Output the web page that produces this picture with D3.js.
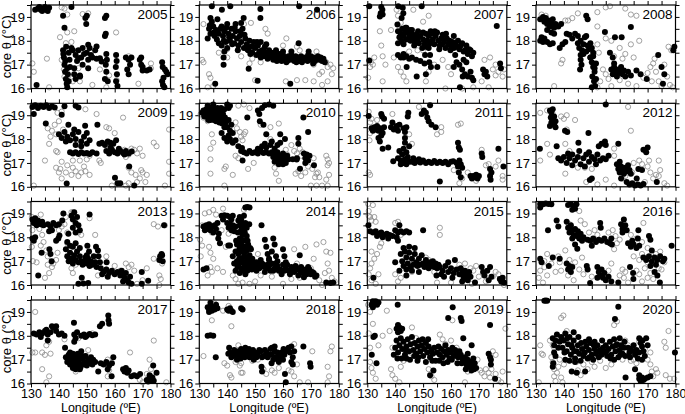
<!DOCTYPE html>
<html>
<head>
<meta charset="utf-8">
<script src="https://cdn.jsdelivr.net/npm/d3@7"></script>
<style>
  body { margin: 0; background: #fff; }
  svg { display: block; font-family: "Liberation Sans", Arial, sans-serif; }
  .tick text { font-size: 13px; fill: #000; }
  .xlab .tick text { font-size: 12.5px; }
  .tick line { stroke: #000; stroke-width: 1; }
</style>
</head>
<body>
<div id="chart"></div>
<script>
// years shown in the 4x4 grid
var years = [2005, 2006, 2007, 2008, 2009, 2010, 2011, 2012, 2013, 2014, 2015, 2016, 2017, 2018, 2019, 2020];
var xTickLabels = [130, 140, 150, 160, 170, 180];
var yTickLabels = [16, 17, 18, 19];

// [longitude (E), core theta (C)]
var filled2005 = [[131.5,19.3],[132.5,19.35],[133.5,19.3],[134.5,19.35],[135.5,19.3],[136.5,19.38],[133,19.42],[135,19.42],[134,19.25],[136,19.25],
  [132,16.15],[141.5,19.05],[144.5,19.42],[142,18.55],[149.5,18.95],[150,19.05],[149.8,18.7],[156.5,18.95],[157,19.05],[156.8,18.3],[156.5,18.2],
  [141.5,17.6],[141.8,17.3],[142,17.0],[142.2,16.7],[142.5,16.4],[142.8,16.2],[143,16.05],[143.5,16.3],[143.2,16.6],[144,16.9],[143.8,17.2],[143.5,17.5],[142.6,17.75],[144.5,17.7],[141.6,17.45],[142.3,17.15],[143,16.85],
  [145,17.6],[146,17.4],[147,17.6],[148,17.3],[148.5,17.7],[149,17.45],[150,17.5],[150.5,17.2],[151,17.7],[151.5,17.4],[152,17.3],[153,17.6],[153.5,17.25],[146.5,17.15],[145.5,16.85],[147.5,16.55],[146,16.4],[145.5,16.6],[148.5,17.0],[150.5,17.83],[153.5,17.76],[154.7,17.27],[155.3,17.13],[150.5,16.85],[147.6,16.5],[147,17.27],
  [157,17.45],[157.2,17.2],[156.8,17.0],[157,16.7],[156.5,16.4],[157.5,16.3],[160.5,17.4],[160.7,17.15],[160.4,16.9],[160.8,16.6],[160.5,16.3],[161,16.1],
  [164,17.3],[165,17.2],[165.5,17.0],[164.5,16.8],[165,16.6],[166,17.3],[169,17.2],[169.5,17.0],[170,16.9],[169.5,17.3],[170,16.75],[172.5,16.8],[171.5,16.75],
  [177,17.1],[177.2,16.9],[177.5,16.45],[177,16.3],[177.3,16.15],[177.8,16.05],[178.5,16.7],[179,16.6],[178,16.8]];
var open2005 = [[130.5,17.05],[131,16.7],[135.7,17.25],[136.5,16.05],[141,19.4],[142,19.35],[143,19.1],[148.5,19.12],[150.5,19.15],[160.5,18.35],[140.4,18.15],[143,18.35],[145.5,18.4],[142.5,17.9],[144.5,17.95],[141.8,16.8],[143.5,16.55],[147.5,16.3],[147,16.85],[154.7,16.8],[157,16.05],[160.7,16.35],[168.5,16.2],[173,17.05],[173,16.85],[165,17.35],[158,16.55],[152,16.15],[141,17.2],[142,16.5],[145,16.3]];

var filled2006 = [[135.7,16.2],[150.9,16.33],[147.7,16.83],[138.7,17.0],[138.1,19.3],[151.9,19.33],[165.8,19.45],[172.2,19.3],[162.6,16.2],[134.5,19.45],[141.1,19.45],[151.9,18.96],[145.9,18.96],[165.6,17.9],[169.2,17.55],[138.7,17.3],
  [133,18.1],[133.5,18.5],[134,18.3],[134.5,18.8],[135,18.6],[135.5,18.2],[136,18.45],[136.5,18.9],[137,18.3],[137,17.9],[134,18.95],
  [138,18.6],[138.5,18.2],[139,18.4],[139.5,17.95],[140,18.7],[140.5,18.3],[141,18.0],[141.5,18.5],[142,18.2],[138,17.8],[139,17.55],[140,17.7],
  [142.5,17.9],[143,18.4],[143.5,18.1],[144,17.8],[144.5,18.2],[145,17.95],[145.5,18.5],[146,17.7],[146.5,18.1],[147,17.85],[143,18.7],[145,18.75],
  [147.5,17.6],[148,18.0],[148.5,17.75],[149,17.5],[149.5,17.95],[150,17.7],[150.5,17.4],[151,17.8],[151.5,17.55],[152,17.3],[152,17.95],
  [152.5,17.6],[153,17.35],[153.5,17.75],[154,17.5],[154.5,17.25],[155,17.6],[155.5,17.35],[156,17.5],[156.5,17.2],[157,17.4],[154,17.85],
  [157.5,17.6],[158,17.25],[158.5,17.45],[159,17.3],[159.5,17.15],[160,17.4],[160.5,17.25],[161,17.3],[161.5,17.15],[162,17.35],
  [162.5,17.2],[163,17.4],[163.5,17.25],[164,17.15],[164.5,17.35],[165,17.2],[165.5,17.3],[166,17.15],[166.5,17.35],[167,17.2],[168,17.3],
  [168.5,17.25],[169,17.4],[169.5,17.2],[170,17.35],[170.5,17.2],[171,17.3],[171.5,17.15],[172,17.25],[173,17.2],[174,17.15],[175,17.1],[172.5,17.35],[160,17.55],[163,17.55],
  [133.8,18.65],[135.2,18.35],[136.3,18.05],[137.6,18.5],[138.8,18.0],[139.7,18.55],[140.7,18.15],[141.8,17.85],[142.7,18.55],[143.8,17.6],[144.7,18.4],[146.2,18.25],[147.2,17.65],[148.3,17.45],[149.3,17.75],[150.7,17.95],[151.8,17.45],[153.2,17.55],[154.8,17.4],[156.2,17.3],[157.8,17.15],[159.2,17.45],[161.2,17.1],[162.8,17.3],[164.8,17.1],[166.8,17.1],[168.8,17.15],[170.8,17.05],[173.5,17.3],[174.5,17.25]];
var open2006 = [[131.5,18.7],[131,17.2],[131.5,17.1],[133.5,16.6],[134,16.45],[133,16.05],[137,17.5],[140,17.65],[143.5,18.3],[146,18.7],[148.5,18.75],[153.7,18.5],[154.5,18.3],[161.2,18.1],[160,17.8],[165,17.75],[166,17.6],[172,17.55],[170,17.3],[171,17.0],[173,16.6],[174,16.7],[176,16.9],[175.5,17.1],[177,17.0],[178,16.85],[177.5,16.6],[176,16.3],[174,16.15],[171,16.3],[168,16.35],[165,16.35],[161,16.3],[150,16.35],[148,17.05],[149,17.25],[145,17.35],[140,17.3],[152,17.1],[135,16.1]];

var filled2007 = [[130.7,19.45],[135,19.42],[135.4,19.3],[134.8,19.15],[134.5,19.02],[135.5,19.1],[141.1,19.45],[142.7,19.38],[142.9,19.15],[149.5,19.45],[142.3,18.95],[130.7,17.17],[140.8,18.68],
  [141,17.4],[142,17.3],[143,17.45],[144,17.35],[146,17.3],[147.5,17.2],[149,17.15],[150.5,17.05],[150.7,17.4],[152,17.7],[152.5,17.4],[152.2,17.1],[152.8,16.9],[151,16.6],[155.1,16.9],
  [161,17.7],[161.5,17.4],[162,17.1],[161,16.9],[163,17.0],[164,16.8],[165,16.6],[166,16.5],[167,16.7],[167.5,16.45],[165.5,17.1],[164.5,17.2],
  [171.5,16.8],[172,16.6],[172.5,16.7],[173,16.5],[177.6,17.05],[177.9,16.85],[176.4,18.62],[168,16.35],[164.2,16.5],[163.2,16.05],[147.7,16.5],[144.1,16.9],
  [141,18.4],[141.5,18.15],[142,18.3],[142.5,18.5],[143,18.2],[143.5,18.35],[144,18.05],[144.5,18.4],[145,18.2],[145.5,18.0],[146,18.3],[146.5,18.15],[147,17.95],[147.5,18.25],[148,18.05],[148.5,17.9],[149,18.2],[150,18.05],[150.5,17.85],[151,18.3],[151.5,18.0],[152,18.2],[152.5,17.9],[153,18.3],[153.5,18.05],[154,17.85],[154.5,18.2],[155,18.35],[155.5,18.0],[156,17.8],[156.5,18.1],[157,18.25],[157.5,17.95],[158,17.7],[158.5,18.1],[159,17.85],[159.5,18.0],[160,17.75],[160.5,17.95],[161,18.2],[162,17.75],[162.5,18.0],[163,17.65],[164,17.9],[165,17.6],[165.5,17.8],[166,17.45],[167,17.6],[167.5,17.35],[168,17.5],[144,18.55],[146,18.45],[150,18.35],[141,17.9],[143,17.85],
  [142.2,18.0],[143.7,18.55],[145.3,18.45],[146.8,17.8],[148.2,18.4],[149.7,17.7],[151.2,17.75],[152.7,18.4],[154.2,18.4],[155.8,17.65],[156.8,17.85],[158.2,18.3],[159.8,17.6],[161.5,17.9],[163.5,17.8],[164.5,17.55],[166.5,17.65],[143,17.3],[145,17.25]];
var open2007 = [[130.3,16.45],[131,16.9],[131.3,17.1],[132,17.0],[132.5,17.3],[134.5,18.4],[135,17.8],[135.5,17.35],[135.5,16.3],[136.5,17.0],[138.5,18.45],[139.5,17.3],[141,16.9],[142,16.7],[143,16.5],[144,16.3],[140.5,19.3],[141,19.05],[142,18.75],[146.5,19.3],[152,19.05],[150,18.8],[148,17.6],[150,17.6],[152,16.7],[151,16.3],[154,17.0],[157,17.2],[159,16.9],[160,16.6],[158,16.0],[164,16.0],[168,16.05],[171,16.3],[172,17.2],[174,17.3],[175,16.8],[176,16.55],[177,16.7],[178.5,16.5],[179,16.8],[176,17.0],[173.5,16.05],[145,17.55]];

var filled2008 = [[131.5,18.9],[132.5,19.0],[133,18.8],[133.5,18.95],[134,18.7],[134.5,18.85],[135,18.6],[135.5,18.75],[136,18.9],[136.5,18.55],[137,18.7],[134,18.45],[135.5,18.35],[136.5,18.3],[138,18.6],[139,18.7],
  [131.5,18.0],[132,18.15],[132.5,17.95],[133,18.1],[134,17.95],[135,17.85],[136,17.9],[141,18.3],[142,18.25],[143,18.1],[144,18.3],[139.5,17.85],[140.5,17.95],[138.5,17.7],
  [145,17.9],[145.5,17.7],[146,18.0],[146.5,17.6],[147,17.85],[147.5,18.15],[148,17.55],[148.5,17.8],[149,17.65],[149.5,17.9],[150,17.7],[150.5,17.5],[147,17.45],[148,18.2],[146,17.4],[145,18.2],[149.5,17.3],
  [146,17.2],[146.3,17.0],[145.8,16.8],[149.5,17.3],[150,17.1],[150.5,16.9],[151,16.7],[150.2,16.5],[150.8,16.3],[151.2,16.1],[150,16.05],[151.5,16.4],[151,16.85],[150.5,17.35],[151.5,17.05],
  [148,19.05],[148.5,18.9],[154.7,18.37],[158.3,18.15],[160.7,18.15],[164,18.58],
  [157,16.8],[157.5,16.6],[158,16.9],[158.5,16.7],[159,16.5],[159.5,16.8],[160,16.65],[160.5,16.9],[161,16.6],[161.5,16.75],[162,16.5],[163,16.7],[164,16.55],[158,17.05],[156.5,17.5],[157.5,17.3],
  [166,16.75],[167.5,16.6],[169.7,16.4],[173.8,17.4],[175,16.9],[175.5,16.2],[176,16.6],[179.2,17.6],[179.6,17.75]];
var open2008 = [[132,19.1],[133.5,19.05],[140.5,18.85],[141.5,18.85],[143,18.95],[145,19.15],[152,19.2],[155,19.4],[156.5,19.45],[162,19.35],[164,19.1],[166,19.05],[152,18.6],[155,18.1],[157,18.0],[160,17.7],[162,17.45],[165,17.3],[164,17.85],[167,18.0],[139.5,17.2],[139,17.05],[136.5,16.1],[152,17.85],[152.5,17.5],[154,16.8],[155,16.6],[156,16.4],[153,16.3],[152,16.05],[157,16.1],[160,16.35],[163,16.2],[166,16.1],[168.5,16.45],[170,16.65],[171,16.9],[172,17.05],[173,16.7],[174,16.3],[175,16.1],[177,16.5],[178,16.15],[179,16.05],[171.5,16.3],[172.5,17.25],[176,17.0],[177.5,17.75],[178.5,17.6],[158,17.35],[161,17.25]];

var filled2009 = [[130.5,19.35],[131.5,19.42],[132.5,19.3],[133.5,19.4],[134.5,19.35],[135.5,19.42],[136.5,19.3],[137.5,19.38],[138.5,19.32],[142,19.38],[146,19.4],[147,19.32],
  [131,19.05],[141,19.02],[135.3,18.65],[143.4,18.6],
  [140,18.2],[141,18.05],[142,18.3],[143,18.1],[144,17.95],[145,18.2],[146,18.0],[147,18.3],[148,17.9],[149,18.1],[150,18.25],[151,17.95],[146,17.75],[148,17.7],[150,17.8],[142.5,17.9],[145.5,18.4],
  [149.4,18.56],[153.8,18.6],
  [144,17.45],[145,17.4],[146,17.45],[147,17.38],[148,17.45],[149,17.4],[150,17.42],[151,17.38],[152,17.45],[153.5,17.4],
  [154.5,17.8],[155.5,17.85],[156.5,17.75],[157.5,17.9],[158.5,17.85],[159.5,17.8],[160.5,17.95],
  [157,17.5],[158,17.4],[159,17.55],[160,17.45],[161,17.4],[162,17.5],[163,17.42],[164,17.5],[165,17.4],[158.5,17.65],[161.5,17.6],[163.5,17.35],
  [160.1,16.38],[161,16.15],[162,16.15],[165.2,16.85],[166.1,17.48],[142.8,16.14],[167,16.05]];
var open2009 = [[131,16.05],[135,17.1],[136,18.45],[137,18.1],[136.5,17.8],[137.5,18.35],[138.5,18.6],[139,18.2],[140,18.75],[141.5,18.4],[139,17.5],[139.5,17.45],[139,16.8],[140,16.6],[141,16.35],[140.5,16.75],[141,17.05],[142.5,16.6],[143,16.9],[144.5,16.5],[145,16.8],[145,17.1],[146,16.65],[147,16.45],[148,16.6],[149,16.85],[149.5,16.65],[150,17.15],[151,17.3],[151,16.5],[147.5,17.1],[149.5,19.25],[141,19.15],[139.5,19.1],[153.5,19.05],[157,18.5],[158,18.45],[160,18.25],[163,18.9],[163.5,17.55],[165,17.35],[166,17.6],[167,17.55],[168,17.4],[169,17.6],[170,17.3],[164,17.25],[165,16.8],[166,16.6],[167.5,16.5],[168,16.2],[169,16.35],[169.5,16.7],[170,16.6],[171,16.2],[171.5,16.5],[165,16.15],[164,16.05],[174,17.85],[175,17.7],[179.5,18.4],[179.5,17.05],[179.5,16.55],[178,16.05],[159,16.05],[154.5,17.1],[155,17.0]];

var filled2010 = [[131,19.1],[131.5,19.2],[132,19.05],[132.5,19.25],[133,18.95],[133.5,19.15],[134,19.3],[134.5,19.0],[135,19.2],[135.5,18.9],[136,19.1],[136.5,19.3],[137,18.95],[137.5,19.15],[138,18.85],[138.5,19.05],[139,19.25],[134,18.8],[136,18.75],[133,19.4],[135,19.45],
  [131.8,18.95],[132.8,19.15],[133.8,18.95],[134.8,19.35],[135.8,19.05],[136.8,18.85],[137.8,19.3],[133.2,18.8],[135.2,18.8],[137.2,18.7],[138.2,18.65],[139.2,18.9],
  [140,19.45],[141,19.4],[140.5,19.3],
  [139.5,18.7],[140,18.5],[140.5,18.8],[141,18.35],[141.5,18.6],[142,18.25],[139,18.5],[140.5,18.15],
  [138,18.25],[139,18.05],[140,17.9],[141,18.0],[142,17.85],[143,17.95],[144,17.7],
  [151,19.2],[151.5,19.05],[153.5,19.42],[155,19.45],[156.5,19.4],[151.7,18.75],[152.5,19.3],[153,18.6],[147.2,18.9],[145,17.5],[145.3,17.63],
  [146,17.45],[147,17.4],[148,17.5],[149,17.42],[150,17.45],[151,17.4],[152,17.5],[153,17.42],[154,17.45],[155,17.4],[156,17.45],[157,17.4],[145.5,17.1],
  [151,17.6],[152.5,17.7],[154,17.65],[155.5,17.75],[157,17.6],[158,17.75],[159,17.85],[153.5,17.8],[156,17.9],
  [154,18.2],[159,18.2],[160.7,18.0],[165.5,18.05],[165.5,17.8],
  [156.5,17.25],[157,17.05],[157.5,17.35],[158,17.15],[158.5,16.95],[159,17.3],[159.5,17.1],[160,17.4],[160.5,17.2],[161,17.0],[161.5,17.3],[162,17.15],[158,17.45],[160,16.95],
  [167.3,18.9],[169,18.3],[164.9,17.14],[167.5,17.4],[168,17.2],[168.5,17.35],[169,17.1],[169.5,17.3],[168,17.0],[166.1,16.76],[171.1,16.9],[163.5,17.15],[165,17.2]];
var open2010 = [[130.5,19.05],[131.5,18.9],[133,18.75],[134.5,18.2],[135,17.85],[134,17.6],[134,17.15],[134,16.55],[139,16.75],[139.5,16.85],[139,16.05],[143,18.7],[143.5,18.45],[144.5,18.3],[145,18.1],[146,18.2],[146.5,18.3],[145.5,17.95],[144,17.2],[142,16.5],[147.5,16.75],[149.5,17.0],[148,19.3],[146,19.45],[144,19.4],[152,18.6],[155.5,18.5],[155.5,18.0],[158.5,18.65],[157,16.8],[157.5,16.55],[158.5,16.25],[161,17.55],[161.5,17.35],[163,17.75],[164,17.5],[165,17.4],[166,17.6],[166.5,17.3],[167,17.45],[164.5,16.55],[165.5,16.65],[166.5,16.45],[168,16.6],[169,16.85],[170.5,16.75],[171,17.2],[172,16.55],[171.5,16.4],[172.5,16.6],[173,16.4],[175.5,17.3],[176,17.15],[176.5,17.0],[176,16.9],[176.5,16.5],[175.5,16.3],[176,16.05],[174,16.05],[172,16.05],[170,16.05],[150,17.45],[143,17.3]];

var filled2011 = [[130.5,18.97],[131.5,18.45],[132,18.35],[132.5,18.5],[133,18.4],[133.5,18.55],[134,18.35],[134.5,18.45],[135,18.4],[136,18.5],[135.5,18.25],
  [134,18.05],[134.5,17.9],[135,18.15],[135.5,17.6],[135,19.05],[135.3,18.95],[136,18.85],[137.5,17.65],
  [138.5,18.5],[139.5,18.4],[140.5,18.55],[141,18.35],[141.5,18.6],[139,18.7],[143,18.45],[143.5,18.3],[144,18.5],[143.5,18.05],[144.7,19.1],[144.5,18.95],
  [141,17.2],[141.5,17.5],[142,17.1],[142.5,17.35],[143,17.6],[143.5,17.15],[144,17.45],[144.5,17.25],[145,17.7],[143,17.0],[142,16.95],[144,16.95],[145,17.05],[143.5,17.85],[139.3,17.07],
  [146,17.05],[147,17.0],[148,17.08],[149,17.02],[150,17.1],[151,17.0],[152,17.05],[153,17.0],[154,17.08],[155,17.0],[156,17.05],[157,17.0],[158,17.05],[159,16.95],[160,17.05],[146.5,17.2],[148.5,17.15],[160.8,17.07],
  [150.3,19.2],[151,19.1],[151.5,18.9],[152,18.75],[153,18.6],[154.5,18.5],[149.5,19.05],[152.5,19.42],
  [162.5,17.85],[162.8,17.65],[163.2,17.55],[162,17.0],[162.5,16.85],[163,17.1],[163.5,16.95],[164,16.8],[162.8,16.6],[163.5,16.4],[156,16.22],
  [167,16.45],[167.5,16.35],[168,16.45],[168.5,16.4],[169,16.5],[169.5,16.35],[170,16.45],[171,17.4],[171.2,17.25],
  [174,16.45],[174.2,16.3],[174.5,16.6],[174,16.75],[177,17.6],[178.8,16.85]];
var open2011 = [[130.5,19.15],[131,18.7],[131.5,18.85],[131,18.25],[130.8,17.95],[131,16.5],[130.5,16.6],[133.5,18.8],[134.5,18.45],[139,19.05],[145,18.2],[146,17.8],[148.5,19.35],[156.5,18.5],[156.5,18.3],[155,18.2],[162.5,18.6],[163.5,18.65],[163,16.15],[164,16.35],[169,16.25],[171,17.55],[172.5,16.9],[173.5,16.95],[176,16.85],[177,17.1],[178.5,16.45],[178.5,16.3],[161,16.7],[166,16.6]];

var filled2012 = [[135,19.2],[135.5,19.1],[136,19.25],[135.3,18.9],[136,18.8],[135.5,18.7],[136.5,18.6],[137,18.5],[136.5,18.95],[137,18.75],[135,18.55],
  [155,19.45],[131.4,17.6],[137.4,17.7],[140.4,18.35],[141.2,18.3],[148.8,18.25],[145.2,17.85],[153.5,17.8],[154.7,17.9],[152.5,17.7],[155,17.75],[159.5,17.8],[168.5,17.55],[169.5,17.45],
  [138,17.2],[139,17.1],[140,17.25],[141,17.0],[142,17.2],[143,17.35],[144,17.1],[145,17.25],[146,16.95],[147,17.2],[148,17.35],[149,17.05],[150,17.25],[151,17.15],[152,17.35],[153,17.1],[154,17.2],[155,17.15],[156,17.3],[141.5,17.4],[145.5,17.5],[149,17.45],[143,16.9],[147.5,16.85],[151.5,16.95],
  [149.3,16.28],[150,16.35],
  [159,16.95],[159.5,16.75],[160,16.6],[160.5,16.85],[161,16.7],[161.5,16.55],[162,16.8],[162.5,16.65],[163,16.9],[163.5,16.7],[164,16.55],[160,17.05],[160.5,16.35],
  [162.5,16.2],[163.5,16.1],[164.5,16.15],[165.5,16.05],[166.5,16.1],[167.5,16.05],[168.5,16.12],[166.7,16.75],[168,16.7],[166.1,16.35],[173.3,16.2],[170,17.65]];
var open2012 = [[131.5,19.1],[131.5,17.1],[135,17.35],[134,17.8],[134,19.2],[136,19.05],[139,18.95],[140,18.85],[141,19.0],[141,18.4],[144,18.8],[140.5,17.8],[142,17.5],[140.5,16.55],[145,16.8],[150,16.75],[147.5,16.8],[148,16.2],[152,16.1],[155,16.3],[158,16.05],[163,19.35],[164,18.35],[158,17.6],[158,17.3],[161,16.35],[162,16.45],[164.5,16.6],[165,17.0],[167,17.1],[168,16.95],[170,16.85],[171,16.6],[172,16.35],[173,16.5],[174,16.45],[174.5,16.7],[174,17.1],[176,16.15],[177,16.05],[170.5,17.1],[169,16.2]];

var filled2013 = [[130.5,18.75],[131,18.6],[131.5,18.8],[132,18.5],[132.5,18.7],[133.5,18.55],[134,18.65],[134.5,18.5],[130.5,17.95],[131,17.85],[131.5,18.0],
  [136,18.55],[137,18.45],[138,18.6],[139,18.5],[140,18.55],[137.5,18.3],[136.5,18.25],[136.6,17.5],[137,17.3],[137.4,17.0],[132.6,16.4],[133.8,17.35],[139.8,17.95],[139,17.85],[141.6,19.0],[141.2,18.7],[140.2,18.08],
  [144.5,18.9],[145,18.75],[145.5,19.05],[146,18.6],[146.5,18.85],[145,18.4],[146,18.2],[147,18.5],[147.5,18.3],[151,18.95],[143.4,18.15],
  [142.5,17.5],[143,17.2],[143.5,17.0],[144,17.35],[144.5,17.1],[145,16.9],[145.5,17.25],[146,17.05],[146.5,17.4],[147,16.95],[147.5,17.2],[148,17.0],[148.5,16.85],[145,17.6],[146,17.75],[144,17.65],[143,17.8],[147.5,17.55],[149,16.95],[149.5,17.15],
  [150,16.9],[150.5,17.1],[151,16.8],[151.5,17.0],[152,16.85],[152.5,17.2],[153,16.95],[153.5,16.75],[150,17.25],[150.2,17.65],[150.8,17.4],[153.3,17.6],[154,17.45],[154.2,17.2],[154.7,16.95],
  [148.2,16.3],[147,16.05],[148.8,16.06],[150.5,16.08],[157.1,16.95],
  [155,16.7],[156,16.55],[157,16.65],[158,16.5],[159,16.6],[160,16.45],[161,16.55],[162,16.4],[157.5,16.35],[155.5,16.45],
  [162.5,16.6],[163,16.45],[163.5,16.3],[164,16.5],[164.5,16.2],[165,16.1],[165.5,16.35],[163,16.15],[166,16.05],
  [169.7,16.55],[172,16.18],[176.3,17.2],[176.8,17.3],[177,17.25],[176,17.05],[177.2,17.0],[177.7,18.5],[169.7,16.05]];
var open2013 = [[130.3,18.85],[130.5,18.3],[130.3,17.6],[130.7,17.0],[132,16.95],[133.5,18.95],[133,18.35],[134,18.1],[134.5,17.8],[133.5,17.65],[135.5,17.45],[136,17.2],[136,16.85],[135,16.3],[136.5,16.5],[137.5,16.75],[138,16.9],[139,17.05],[139.5,17.35],[140,18.3],[141,18.45],[142,18.55],[143,18.2],[142.5,18.85],[144.5,19.05],[145,19.05],[146,18.55],[147,18.2],[148,18.1],[143,17.75],[144,17.2],[146,16.85],[144.5,16.7],[145,16.5],[151,18.8],[153,18.1],[152,17.05],[153,16.95],[157,17.2],[154,16.4],[157,16.65],[160,16.8],[162,16.6],[164,16.9],[165,16.75],[166,16.85],[167,16.6],[168,16.05],[170,16.2],[171.5,16.7],[174,18.55],[175.5,18.45],[178,18.5],[176,16.4],[176.5,16.25],[177,16.9],[176,16.0],[174,17.1]];

var filled2014 = [[131.5,18.45],[132,18.3],[132.5,18.5],[133,18.35],[133.5,18.55],[134,18.3],[134.5,18.45],[135,18.2],[136,18.35],[136.5,18.6],[137,18.15],[135.5,18.5],
  [138,18.9],[139,18.92],[140,18.9],[141,18.85],[142,18.9],[138.5,18.75],[141.5,18.75],
  [140,18.6],[140.5,18.4],[141,18.55],[141.5,18.3],[142,18.5],[142.5,18.25],[143,18.45],[132.6,16.7],[131.5,16.65],[136.8,17.95],[137.4,17.75],[140.4,17.66],[141,17.66],
  [144,18.7],[144.5,18.5],[145,18.75],[145.5,18.55],[146,18.35],[146.5,18.6],[147,18.4],[145,18.3],[144.5,18.85],[146,18.9],[146.5,19.25],[147.2,19.27],[148,19.25],[147.9,18.55],
  [142,17.2],[142.5,16.9],[143,17.4],[143.5,17.0],[143.5,17.7],[144,17.3],[144,16.8],[144.5,17.55],[144.5,17.95],[145,17.1],[145,17.75],[145,16.7],[145.5,17.4],[145.5,18.1],[146,16.9],[146,17.6],[146,17.2],[146.5,17.85],[146.5,16.7],[147,17.45],[147,17.0],[147.5,17.7],[147.5,16.8],[148,17.25],[148,16.95],[148.5,17.5],[148.5,16.75],[149,17.1],[149,16.85],[144.5,16.5],[146.5,16.45],[149.5,16.7],[143,16.6],[147,18.05],
  [143.2,17.85],[143.8,18.2],[144.2,17.45],[144.8,16.95],[145.2,17.9],[145.8,16.6],[146.2,17.35],[146.8,17.6],[147.2,16.6],[147.8,17.1],[148.2,17.55],[148.8,16.65],[145.3,18.3],[146.3,18.2],[147.3,17.85],[144.3,17.1],[143.7,16.75],[145.7,16.95],[146.8,17.15],[148.3,16.9],[149.3,16.95],[149.8,16.85],
  [150,16.8],[151,16.9],[152,16.75],[153,16.85],[154,16.7],[155,16.8],[156,16.9],[157,16.7],[158,16.8],[159,16.65],[160,16.85],[161,16.7],[162,16.6],[163,16.75],[164,16.55],[165,16.7],[166,16.6],[167,16.5],[168,16.65],[169,16.55],[170,16.45],[171,16.5],[172,16.4],[150.5,16.6],[153.5,16.55],[156.5,16.6],[159.5,16.45],[162.5,16.45],[165.5,16.4],[155,17.05],[158,17.0],[161,16.95],[152,17.05],
  [150.5,16.95],[151.5,16.7],[152.5,16.9],[153.5,16.75],[154.5,16.85],[155.5,16.6],[157.5,16.9],[158.5,16.6],[160.5,16.6],[161.5,16.85],[163.5,16.6],[164.5,16.8],[166.5,16.75],[167.5,16.6],[168.5,16.45],[169.5,16.65],[170.5,16.55],[171.5,16.35],
  [153.5,17.9],[154,17.6],[154.5,17.3],[156.5,17.95],[157,17.7],[156,17.4],[157.5,17.2],[155,17.1],[152.3,18.5],[160,17.5],[160.5,17.2],[166,17.25],[175.5,16.1],[177,16.08],[178,16.1],[169,16.75],[167.5,16.32]];
var open2014 = [[130.3,17.9],[130.5,17.2],[131,17.65],[131,18.5],[132,19.0],[133.5,19.05],[135,19.15],[136,18.95],[134.5,18.2],[133.5,17.6],[134,17.35],[135,17.1],[134,16.75],[134.5,16.55],[133,16.4],[136.5,16.7],[138.5,16.55],[138.5,19.2],[140.5,18.15],[139.5,17.6],[142,16.4],[143,16.25],[144,16.05],[145.5,16.1],[148,16.05],[150,16.15],[152,16.4],[156,16.35],[160,16.05],[163,16.25],[166,16.3],[168,16.55],[170,16.7],[171,17.1],[172,17.7],[174.5,17.8],[175.5,17.4],[177,17.35],[176,16.9],[175,16.5],[176.5,16.6],[177.5,16.3],[178.5,16.15],[173,16.2],[174,16.0],[168,17.6],[164,17.5],[151,17.3],[150,16.95],[165,16.9],[146,19.15],[138,18.3]];

var filled2015 = [[130.4,18.5],[131,18.25],[132,18.2],[133,18.25],[134,18.15],[135,18.2],[136,18.1],[137,18.15],[138,18.1],[139,18.05],[135.5,18.0],[137.5,17.95],[133.5,18.05],[132.2,16.3],
  [140,18.3],[141,18.2],[142,18.25],[143,18.2],[144,18.25],[145,18.2],[141.5,18.5],[140.5,18.0],[141,17.85],[150,18.3],
  [142,17.3],[142.5,17.0],[143,16.8],[143.5,17.4],[144,17.15],[144.5,16.9],[145,17.35],[145.5,16.75],[146,17.1],[146.5,16.85],[147,17.3],[147.5,16.95],[148,16.8],[148.5,17.1],[149,16.85],[149.5,17.25],[150,16.9],[150.5,16.75],[151,17.05],[151.5,16.85],[152,16.7],[152.5,16.95],[153,16.8],[153.5,17.0],[154,16.75],[154.5,16.9],[155,16.7],[155.5,16.85],[143,17.55],[145,17.6],[147,17.55],[144,16.65],[146,16.6],[148.5,16.55],
  [140,16.95],[141.5,16.6],[144,16.4],
  [156,16.75],[157,16.6],[158,16.8],[159,16.55],[160,16.7],[161,16.5],[162,16.65],[163,16.45],[157.5,16.35],[160.5,16.3],[159,16.95],[156.5,16.45],[154.8,16.4],
  [163.5,16.7],[164,16.5],[164.5,16.3],[165,16.6],[165.5,16.4],[166,16.2],[166.5,16.55],[167,16.35],[164,16.15],[161.4,17.05],
  [171,16.75],[171.5,16.55],[172,16.4],[173,16.6],[174,16.75],[174.5,16.35],[173.5,16.2],[177.5,16.25],[178,16.15],[178.5,16.3],[179,16.1],[168.6,16.1]];
var open2015 = [[130.3,19.4],[130.5,19.1],[131,18.85],[131.5,18.7],[130.5,18.9],[132.5,18.85],[133,18.65],[131.5,17.4],[131,16.7],[131.5,16.9],[132.5,17.1],[133.5,17.3],[134.5,17.6],[135,17.75],[130.5,16.45],[131.5,16.2],[133,16.05],[134,16.45],[132,19.35],[140,18.6],[141,18.65],[142,18.1],[142,16.3],[140,16.45],[141,16.15],[146,16.55],[151,17.15],[152,17.05],[154,16.55],[155,16.1],[156,18.4],[156,18.1],[163,16.85],[165,16.9],[167,16.7],[168,16.6],[169,16.8],[170,16.35],[172.5,16.15],[175,16.35],[176,16.55],[177,16.45],[179,16.0],[167.5,16.05],[160,16.1]];

var filled2016 = [[131.5,19.4],[132.5,19.38],[133.5,19.42],[134.5,19.4],[135.5,19.38],[131.5,19.25],
  [141.5,19.35],[142.5,19.4],[143.5,19.3],[144.5,19.38],[143,19.15],[144,19.2],[134.3,18.3],[137.4,18.7],[138,18.45],
  [141,18.65],[141.5,18.4],[142,18.2],[142.5,18.5],[143,18.3],[143.5,18.1],[144,18.35],[144.5,18.05],[145,18.25],[145.5,17.95],[146,18.15],[146.5,17.85],[147,18.0],[143,17.95],[144,17.7],[144.8,17.52],
  [148.5,17.9],[149.5,17.85],[150.5,17.95],[151.5,17.8],[152.5,17.9],[153.5,17.85],[154.5,17.95],[155.5,17.8],[156.5,17.75],[150,17.65],[153,18.6],[153.2,18.4],[157,17.95],[157.2,17.7],
  [160.5,18.55],[161,18.35],[161.5,18.75],[162,18.5],[161,18.2],[162.5,18.3],
  [163,17.75],[164,17.6],[165,17.7],[166,17.55],[167,17.65],[164.5,17.85],[166.5,17.95],[166.7,18.3],[170.5,18.05],[171,17.9],[171.5,17.45],
  [168.5,17.15],[169.5,17.05],[170.5,17.2],[171.5,17.0],[172.5,17.15],[173.5,17.05],[174.5,17.2],[175.5,17.0],[176,17.1],[173,16.85],[171,16.8],[178.6,17.65],
  [131.5,17.1],[132,16.95],[136,17.15],[138.5,17.1],[134.6,16.8],
  [141,16.9],[141.5,16.65],[142,16.8],[142.5,16.55],[143,16.75],[148.2,16.8],[148.5,16.65],
  [152,16.75],[152.5,16.55],[153,16.4],[153.5,16.65],[154,16.3],[154.5,16.5],[155,16.2],[156,16.35],[157,16.15],[152,16.3],
  [149.4,16.08],[159.5,16.1],[164.9,16.25],[164.8,16.5],[163.7,16.75],[174.4,16.1],[172.5,16.55],[173.5,16.4]];
var open2016 = [[131,16.3],[131.5,16.6],[132.5,16.1],[134,16.4],[133,16.75],[134,17.3],[133,17.0],[135.5,16.9],[137,16.55],[138.5,16.95],[139,16.6],[138,17.2],[140.5,17.45],[141.5,16.4],[142,17.05],[143.5,16.2],[144,16.95],[145.5,16.65],[147,16.45],[146.5,17.15],[142,18.55],[144,19.35],[145.5,19.1],[146,18.7],[147.5,18.55],[149,18.2],[151,18.3],[152,18.1],[156,18.2],[157.5,18.3],[158.5,18.05],[159,17.75],[158,17.5],[160,17.9],[164,18.1],[166,17.95],[168,17.8],[170,17.55],[168,17.3],[165,17.2],[167,17.05],[161,16.65],[160,16.4],[161.5,16.3],[162,16.55],[163,16.1],[166,16.6],[167,16.45],[168,16.15],[170,16.3],[171,16.5],[172,16.25],[169,16.7],[170,16.95],[173,17.3],[174.5,17.4],[176,16.95],[175,16.65],[174,16.7],[168.5,18.6],[156,16.6],[157,16.9],[150,16.35]];

var filled2017 = [[131,18.1],[132,18.05],[133,18.15],[134,18.1],[135,18.2],[136,18.05],[137,18.15],[138,18.35],[139,18.2],[135.5,18.25],[137.5,18.4],[133.5,17.95],[136,17.8],
  [139,18.4],[140,18.05],[141,18.1],[142,18.0],[142.2,17.5],[145.4,18.55],[145.5,18.05],[146,17.9],[146.5,18.15],[145.5,17.75],
  [148,18.0],[149,18.05],[150,18.0],[151,18.08],[152,18.02],[153,18.05],[149.5,17.95],[154.7,18.4],[155.5,18.5],[157.7,18.85],[157.8,18.65],[158,18.5],
  [142.5,17.1],[143,16.9],[143.5,17.2],[144,16.8],[144.5,17.05],[145,17.25],[145.5,16.85],[146,17.1],[146.5,16.7],[147,16.95],[147.5,17.2],[148,16.8],[148.5,17.05],[149,16.9],[149.5,17.15],[150,16.75],[150.5,17.0],[151,16.85],[151.5,17.1],[152,16.8],[153,16.9],[146,16.6],[147.5,16.6],[148,17.35],[145,16.65],[144,17.3],
  [143.2,17.05],[144.3,16.95],[145.3,17.0],[146.3,16.85],[147.3,17.05],[148.3,17.15],[149.3,16.8],[150.3,16.9],[151.3,16.95],[152.3,17.0],[146.8,17.25],[145.8,17.2],[144.8,16.75],[147.8,16.7],
  [154.1,16.5],[155,16.85],[156,16.8],[157,16.9],[158,16.75],[159,16.85],[157.5,16.6],[158.9,16.3],[159.5,17.1],
  [163,16.6],[163.5,16.5],[164,16.65],[164.5,16.45],[165,16.55],[166,16.3],[167,16.35],[168,16.3],[169.1,16.4],
  [171.5,16.15],[172,16.08],[172.5,16.2],[173,16.1],[173.5,16.25],[174,16.12],[172.5,16.35],[173.8,16.75],[175,16.45]];
var open2017 = [[131.5,19.0],[130.5,17.3],[131.5,17.3],[134,17.3],[135,17.2],[134,16.6],[136.5,16.3],[135.5,16.05],[135.5,17.6],[136.5,17.75],[137,17.25],[139,18.3],[142,17.85],[146,16.5],[148,17.1],[150,17.15],[150.5,17.4],[152,16.95],[157.5,16.3],[157.5,17.0],[158,16.55],[165.5,17.3],[169,16.15],[170,16.05],[172.5,17.0],[173,16.6],[173,16.3],[174,17.8],[178.5,16.05],[171.5,16.4],[152,18.1],[147,17.9]];

var filled2018 = [[133,19.2],[133.5,19.1],[134,19.25],[134.5,19.05],[135,19.2],[135.5,19.1],[136,19.3],[136.5,19.15],[134,19.38],[133.5,19.0],
  [140,19.1],[140.5,19.05],[141,19.15],[141.5,19.05],[142,19.0],[145,19.15],[145.5,19.1],[133,18.0],[134,18.02],[135,18.0],[135.9,17.1],[140.4,17.25],[140.7,17.5],
  [141,17.3],[142,17.2],[142.5,17.4],[143,17.15],[144,17.35],[144.5,17.2],[145,17.45],[145.5,17.15],[146,17.3],[146.5,17.5],[147,17.2],[147.5,17.35],[148,17.1],[148.5,17.3],[149,17.2],[150,17.3],[151,17.2],[152,17.35],[153,17.15],[154,17.3],[155,17.2],[143.5,17.0],[149.5,17.0],
  [141.5,17.1],[143.2,17.3],[144.8,17.05],[146.3,17.1],[147.8,17.45],[149.3,17.4],[150.5,17.1],[151.5,17.4],[152.5,17.1],[153.5,17.4],[154.5,17.1],[156,17.5],[158.3,17.0],[160.2,17.45],
  [155.5,17.45],[156,17.2],[156.5,17.0],[157,17.35],[157.5,17.1],[158,17.3],[158.5,16.9],[159,17.15],[159.5,17.3],[160,17.0],[160.5,17.2],[161,17.35],[157,17.55],
  [162,17.5],[162.5,17.3],[163,17.55],[163.5,17.1],[163,16.9],[164,17.35],[163.5,16.8],
  [152.3,16.7],[152.5,16.5],[155.9,16.85],[160.7,16.4],[161,16.05],[167.3,17.55],[169.7,16.85],[169.9,16.7]];
var open2018 = [[131.5,17.15],[134.5,18.65],[135.5,19.35],[138.5,19.05],[140.5,19.25],[141.5,18.4],[144,17.6],[139,16.85],[140,16.75],[141,16.35],[141.5,16.25],[143,16.9],[144.5,16.75],[145,16.45],[145.5,16.45],[145,16.85],[149,16.95],[151,17.0],[153,16.6],[154,16.4],[156,16.55],[157,16.45],[158.5,16.65],[162,16.55],[163,16.5],[164,17.65],[165,16.8],[170.5,17.35],[169,16.05],[176,16.7],[177,17.35],[177.5,17.55],[176.5,16.3],[176,16.05],[164,16.3],[166,16.05]];

var filled2019 = [[131.5,19.3],[132,19.45],[132.5,19.35],[133,19.45],[133.5,19.3],[134,19.4],[132,19.2],[132.2,17.95],[132.7,18.0],[131.6,17.2],[133.3,16.85],[140.9,19.3],
  [140.5,18.3],[141,18.15],[141.5,18.35],[142,18.2],[142.5,18.3],[141,18.45],
  [139.5,17.2],[140,17.5],[140.5,17.8],[141,17.3],[141.5,17.6],[142,17.9],[142.5,17.45],[143,17.75],[143.5,17.2],[144,17.55],[144.5,17.85],[145,17.35],[145.5,17.65],[146,17.95],[146.5,17.4],[147,17.7],[147.5,17.25],[148,17.55],[148.5,17.8],[149,17.35],[149.5,17.6],[150,17.15],[150.5,17.45],[151,17.7],[151.5,17.3],[152,17.55],[152.5,17.1],[153,17.4],[153.5,17.25],[154,17.5],[154.5,16.95],[151,16.9],[148,16.95],[144,17.05],
  [140.8,17.05],[142.3,17.05],[143.8,17.4],[145.3,17.0],[146.8,17.15],[148.3,17.1],[149.8,17.85],[151.8,17.85],[153.3,16.95],[155.8,16.95],[157.3,16.85],[158.8,16.9],[160.3,17.0],[162.3,16.85],[163.8,16.85],[165.3,16.6],[167.3,16.55],[168.3,16.6],
  [155,17.3],[155.5,17.55],[156,17.2],[156.5,17.45],[157,17.1],[157.5,17.35],[158,17.6],[158.5,17.2],[159,17.4],[159.5,17.05],[160,17.3],[160.5,17.5],[161,17.15],[161.5,17.4],[162,17.25],[162.5,17.1],[163,17.35],[163.5,17.2],[164,17.05],
  [164.5,16.9],[165,17.1],[165.5,16.8],[166,17.0],[166.5,16.7],[167,16.9],[167.5,16.75],[168,17.05],[168.5,16.85],[169,16.65],[166,17.25],
  [153.7,16.55],[152.5,16.35],[160.6,19.2],[159,18.75],[163.5,18.75],[163.8,18.62],[164.4,17.9],[167.4,17.6],[173.5,17.25],[174,17.1],[174.3,17.0],[174,18.45],[174.3,16.8],[175.8,16.2]];
var open2019 = [[130.3,19.3],[131,19.0],[130.5,18.1],[131,17.5],[131,16.9],[131.5,16.65],[132,16.45],[133,16.2],[132,18.5],[134,17.6],[135.5,18.0],[137,19.05],[138,18.2],[139,17.5],[138.5,16.6],[139,16.35],[140,16.2],[141.5,16.05],[142,16.7],[143,16.95],[145,17.1],[146,18.35],[147.5,17.9],[148.5,17.45],[152,16.6],[153,16.3],[154,16.15],[156,18.05],[157,17.85],[158,17.65],[160,17.8],[160.5,18.65],[162,17.5],[165,16.05],[166,16.5],[168,16.65],[169.5,17.0],[170.5,16.55],[171,16.45],[172,16.3],[172.5,16.6],[173.5,16.45],[174.5,16.6],[174,16.25],[176,16.4],[177,16.15],[178,16.05],[175,17.35],[176,17.2],[179.5,18.3],[178.5,16.5]];

var filled2020 = [[133,19.47],[134,19.47],[133.5,19.48],[159.5,19.22],[158.3,18.7],
  [136,17.9],[136.5,17.6],[137,17.8],[137.5,18.05],[138,17.5],[136.5,17.3],[138.5,17.75],[137,17.15],[139,17.95],[136,16.7],[136.2,16.85],
  [139.5,17.5],[140,17.8],[140.5,18.1],[141,17.35],[141.5,17.65],[142,17.95],[142.5,17.2],[143,17.5],[143.5,17.8],[144,17.05],[144.5,17.35],[145,17.6],[145.5,17.25],[146,16.95],[146.5,17.45],[147,17.15],[140.5,17.0],[142,16.95],[143.5,18.15],[144,16.9],[144.6,16.45],
  [140.2,17.3],[141.2,17.9],[142.7,17.6],[143.7,17.35],[145.2,17.95],[146.2,17.7],[147.7,17.75],[149.2,17.1],[150.7,17.6],[152.2,17.35],[153.7,17.8],[155.2,17.35],[156.7,17.05],[158.7,17.6],[160.2,17.2],[161.7,17.75],[163.7,17.1],[165.2,17.35],[168.2,17.8],
  [147.5,17.3],[148,17.55],[148.5,17.05],[149,17.4],[149.5,17.7],[150,17.2],[150.5,17.0],[151,17.45],[151.5,17.25],[152,17.6],[152.5,17.1],[153,17.4],[153.5,17.2],[154,17.5],[149,17.85],[151,17.75],
  [154.5,17.3],[155,17.6],[155.5,17.15],[156,17.45],[156.5,17.75],[157,17.2],[157.5,17.55],[158,17.85],[158.5,17.35],[159,17.65],[159.5,17.1],[160,17.4],[160.5,17.6],[161,17.25],[161.5,17.5],[162,17.15],[158,17.0],[160,17.9],
  [163,17.5],[163.5,17.3],[164,17.45],[165,17.6],[165.5,17.2],[166,17.4],[166.5,17.05],[167,17.3],
  [167,17.9],[167.5,17.7],[168,17.55],[168.5,17.35],[169,17.15],[168,17.0],[169.5,17.9],[170,17.6],[165.5,16.6],
  [167,16.2],[167.5,16.1],[168,16.25],[168.5,16.15],[169,16.2],[170,16.25],[167,16.35],[162.1,16.25],[171,16.3],[179.8,17.3],[147.6,16.5],[142.8,16.5]];
var open2020 = [[131.5,17.6],[132,17.25],[132.5,17.2],[131,16.05],[135,17.8],[136,17.6],[136.5,17.5],[135.5,17.1],[136,16.9],[136.5,16.6],[136.5,16.3],[137,16.1],[137.5,16.45],[138,16.7],[138.5,17.0],[139,16.25],[139.5,16.05],[140,16.8],[139,18.75],[139.8,18.85],[141,18.2],[142,17.75],[143,17.0],[144.5,16.9],[145,16.55],[146,16.35],[147,16.8],[148.5,16.6],[150,16.9],[151,16.7],[153,16.95],[155,16.65],[157,16.8],[158,18.45],[159,18.6],[161,17.0],[162,17.8],[163,17.6],[164,16.95],[165,17.0],[166,16.85],[167,17.75],[169,17.45],[170,17.0],[171,16.8],[171.5,16.5],[172,16.3],[173,16.6],[173.5,16.45],[176,17.75],[176.5,17.5],[177.5,18.2],[176.5,16.35],[178,16.2],[179.5,16.2],[171,17.3]];

var filledByYear = [filled2005, filled2006, filled2007, filled2008, filled2009, filled2010, filled2011, filled2012,
                    filled2013, filled2014, filled2015, filled2016, filled2017, filled2018, filled2019, filled2020];
var openByYear = [open2005, open2006, open2007, open2008, open2009, open2010, open2011, open2012,
                  open2013, open2014, open2015, open2016, open2017, open2018, open2019, open2020];

// layout of the 4 x 4 grid
var W = 685, H = 414;
var colLeft = [31, 199.3, 367.3, 536];
var rowTop = [5, 103.3, 201.5, 300];
var pw = 139.5, ph = 83.5;

var svg = d3.select("#chart").append("svg")
    .attr("width", W)
    .attr("height", H);

var x = d3.scaleLinear().domain([130, 180]).range([0, pw]);
var y = d3.scaleLinear().domain([16, 19.5]).range([ph, 0]);

var xTicks = d3.range(130, 181, 5);
var yTicks = d3.range(16, 19.51, 0.5);
var fmt = d3.format("d");

years.forEach(function(yr, i) {
    var row = Math.floor(i / 4), col = i % 4;
    var g = svg.append("g")
        .attr("transform", "translate(" + colLeft[col] + "," + rowTop[row] + ")");

    // axes (ticks outward on all four sides)
    var bottom = g.append("g")
        .attr("class", "xlab")
        .attr("transform", "translate(0," + ph + ")")
        .call(d3.axisBottom(x).tickValues(xTicks).tickSize(4).tickSizeOuter(0).tickPadding(1.5).tickFormat(fmt));
    bottom.selectAll(".tick text")
        .filter(function(d) { return row != 3 || xTickLabels.indexOf(d) < 0; })
        .remove();
    g.append("g")
        .call(d3.axisTop(x).tickValues(xTicks).tickSize(4).tickSizeOuter(0))
        .selectAll(".tick text").remove();
    var left = g.append("g")
        .call(d3.axisLeft(y).tickValues(yTicks).tickSize(4).tickSizeOuter(0).tickPadding(2).tickFormat(fmt));
    left.selectAll(".tick text")
        .filter(function(d) { return yTickLabels.indexOf(d) < 0; })
        .remove();
    g.append("g")
        .attr("transform", "translate(" + pw + ",0)")
        .call(d3.axisRight(y).tickValues(yTicks).tickSize(4).tickSizeOuter(0))
        .selectAll(".tick text").remove();
    g.selectAll(".domain").remove();

    // open circles first, filled on top
    g.append("g").selectAll("circle")
        .data(openByYear[i])
        .enter().append("circle")
        .attr("cx", function(d) { return x(d[0]); })
        .attr("cy", function(d) { return y(d[1]); })
        .attr("r", 2.6)
        .attr("fill", "none")
        .attr("stroke", "#8a8a8a")
        .attr("stroke-width", 0.8);

    g.append("g").selectAll("circle")
        .data(filledByYear[i])
        .enter().append("circle")
        .attr("cx", function(d) { return x(d[0]); })
        .attr("cy", function(d) { return y(d[1]); })
        .attr("r", 3)
        .attr("fill", "#000");

    g.append("rect")
        .attr("width", pw)
        .attr("height", ph)
        .attr("fill", "none")
        .attr("stroke", "#000")
        .attr("stroke-width", 1.2);

    g.append("text")
        .attr("x", pw - 3)
        .attr("y", 14)
        .attr("text-anchor", "end")
        .attr("font-size", 13.5)
        .text(yr);

    if (col == 0) {
        g.append("text")
            .attr("transform", "translate(-20.5," + (ph / 2) + ") rotate(-90)")
            .attr("text-anchor", "middle")
            .attr("font-size", 13)
            .text("core θ (°C)");
    }
    if (row == 3) {
        g.append("text")
            .attr("x", pw / 2)
            .attr("y", ph + 28.2)
            .attr("text-anchor", "middle")
            .attr("font-size", 12.5)
            .text("Longitude (ºE)");
    }
});
</script>
</body>
</html>
